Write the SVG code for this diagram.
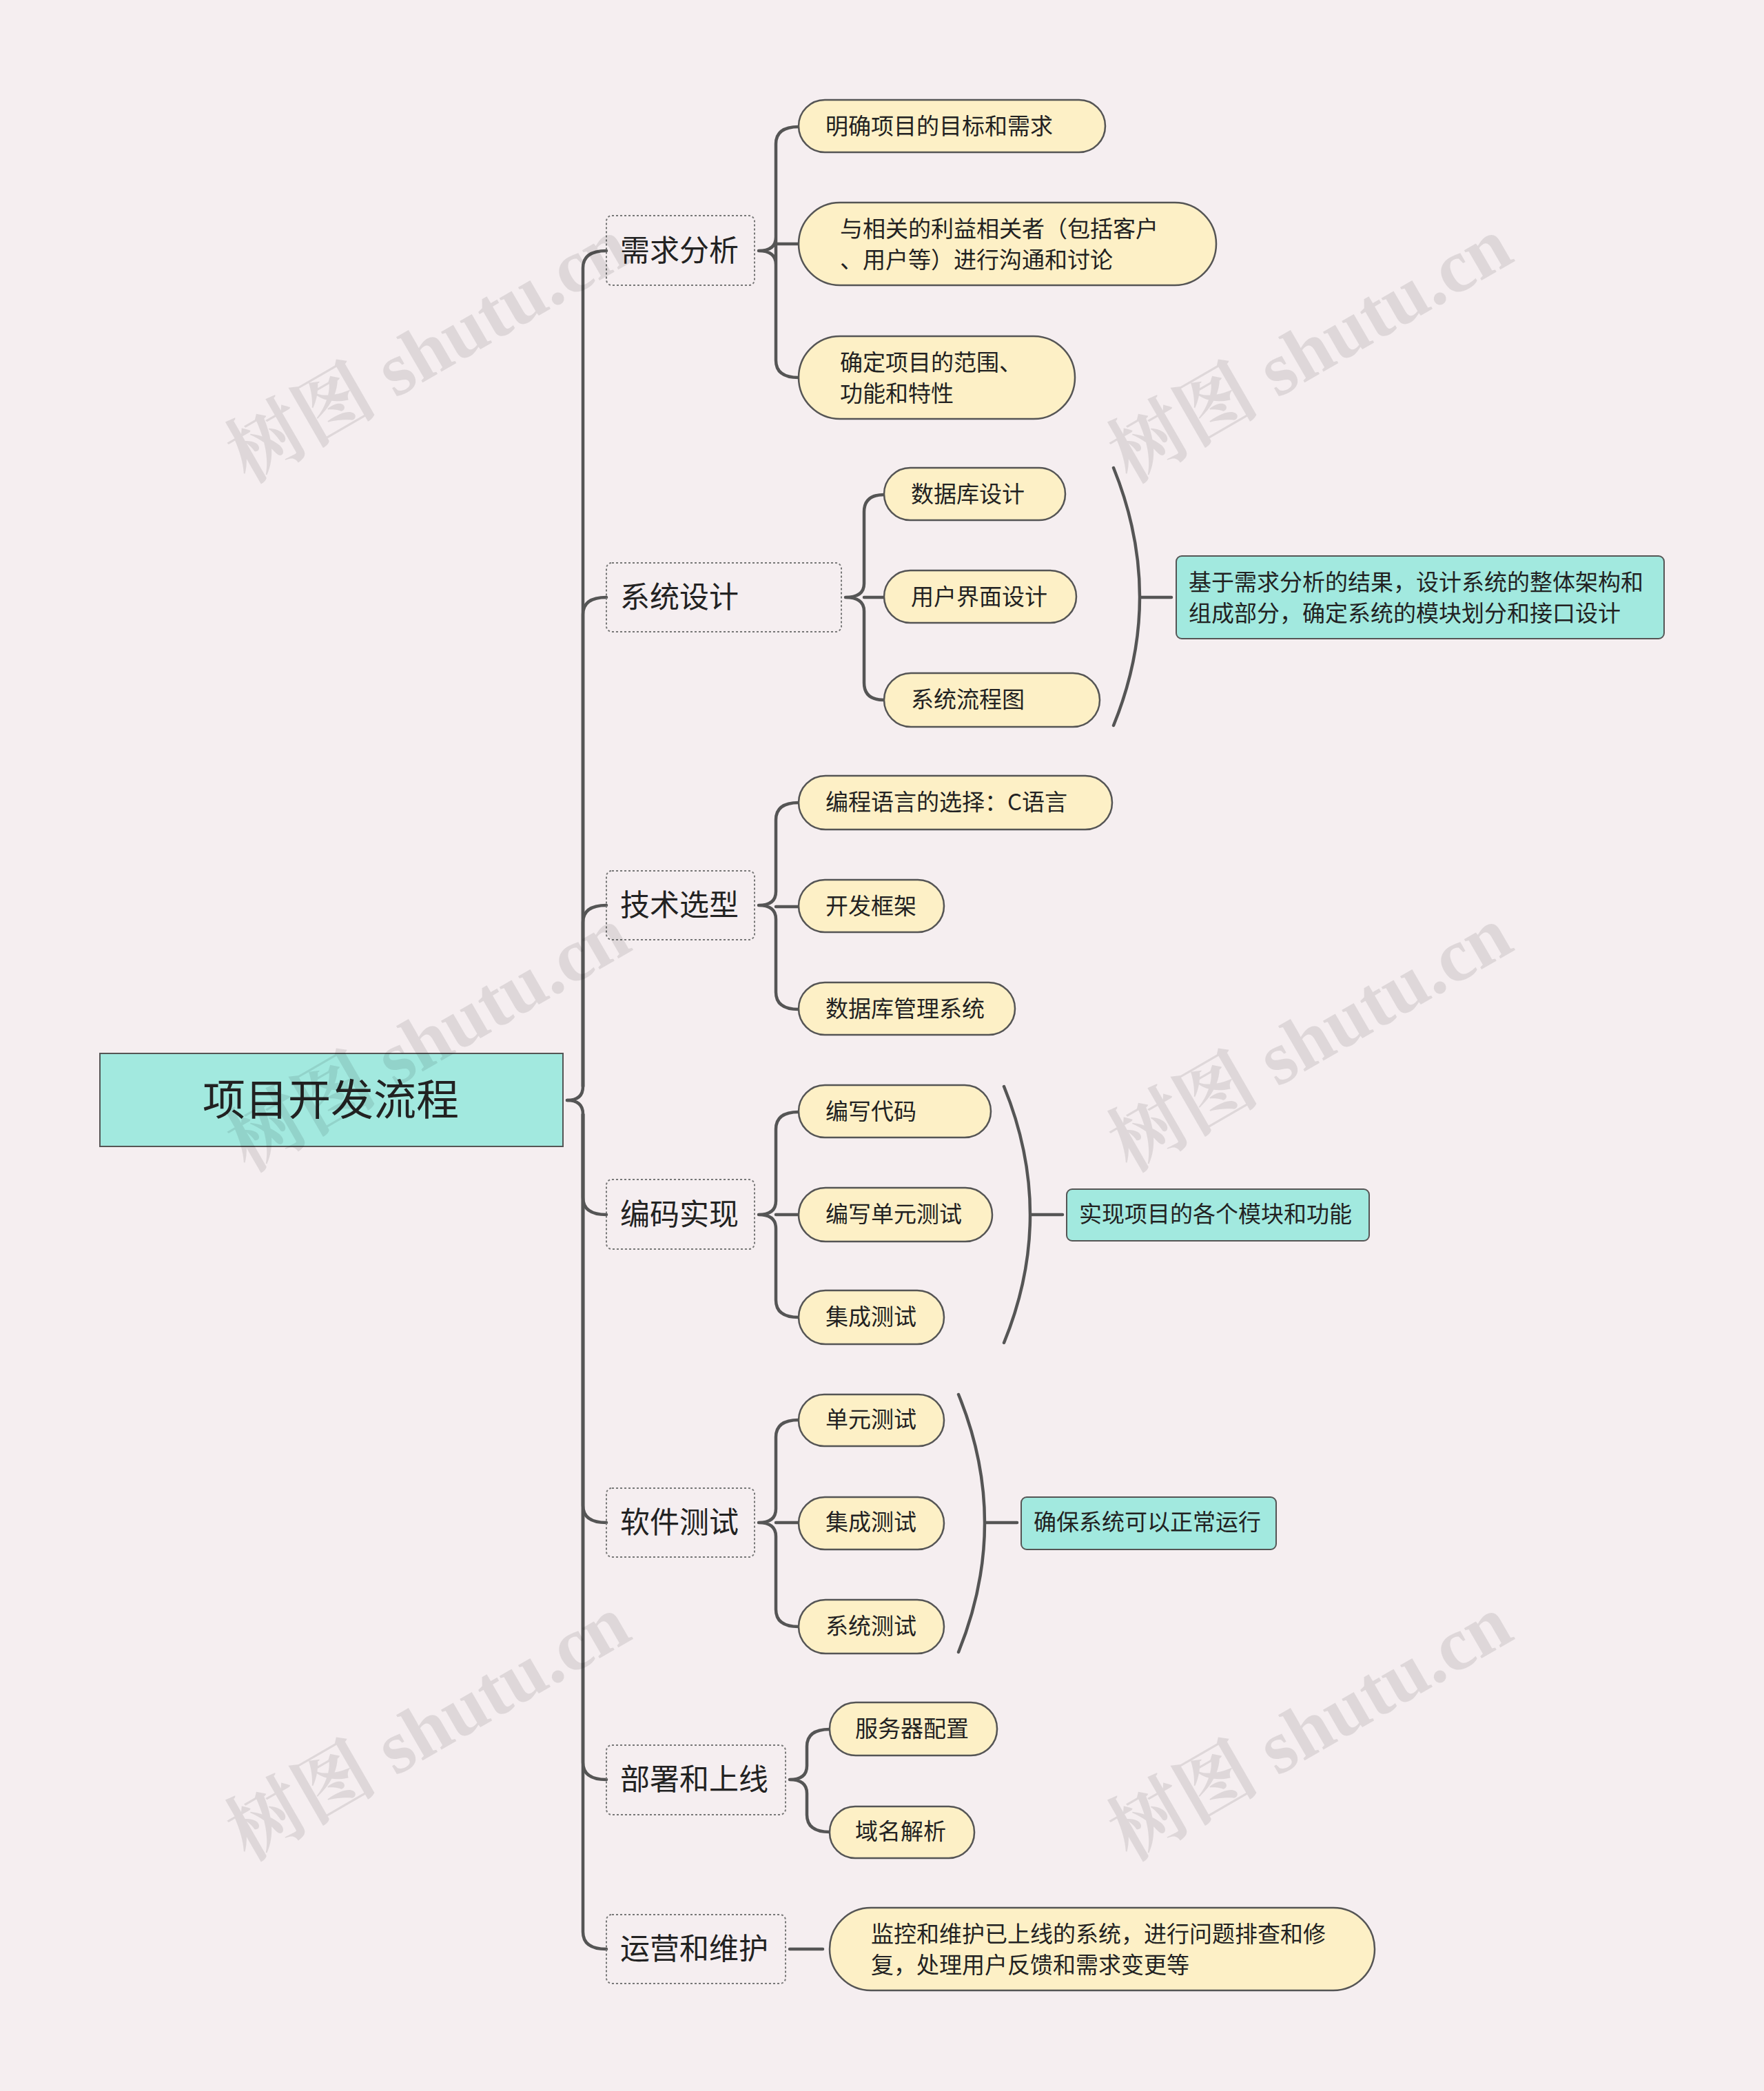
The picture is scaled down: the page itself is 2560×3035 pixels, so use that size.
<svg xmlns="http://www.w3.org/2000/svg" width="2560" height="3035" viewBox="0 0 2560 3035">
<style>
.t{font-family:"Noto Sans CJK SC","Noto Sans",sans-serif;fill:#222}
.l1{font-size:43px}
.l2{font-size:33px}
.pill{fill:#fdf0c6;stroke:#555;stroke-width:2.5}
.sum{fill:#a2e9df;stroke:#555;stroke-width:2}
.box{fill:none;stroke:#777;stroke-width:2;stroke-dasharray:3 3}
.c{fill:none;stroke:#555;stroke-width:4.5;stroke-linecap:round}
.wm{font-family:"Liberation Serif","Noto Serif CJK SC","Noto Sans CJK SC",serif;font-size:110px;font-weight:bold;fill:#000;opacity:0.09}
</style>
<rect width="2560" height="3035" fill="#f5eef0"/>
<g id="connectors">
<path class="c" d="M823,1597 Q846,1597 846,1577 L846,389 Q846,364 880,364"/>
<path class="c" d="M846,1577 L846,892 Q846,867 880,867"/>
<path class="c" d="M846,1577 L846,1339 Q846,1314 880,1314"/>
<path class="c" d="M846,1617 L846,1738 Q846,1763 880,1763"/>
<path class="c" d="M846,1617 L846,2185 Q846,2210 880,2210"/>
<path class="c" d="M846,1617 L846,2558 Q846,2583 880,2583"/>
<path class="c" d="M823,1597 Q846,1597 846,1617 L846,2804 Q846,2829 880,2829"/>
<path class="c" d="M1101,364 Q1126,364 1126,344 L1126,209 Q1126,184 1159,184 M1126,344 L1126,379 L1126,523 Q1126,548 1159,548 M1101,364 Q1126,364 1126,384 L1126,354 Q1126,354 1159,354"/>
<path class="c" d="M1227,867 Q1254,867 1254,847 L1254,743 Q1254,718 1283,718 M1227,867 Q1254,867 1254,887 L1254,991 Q1254,1016 1283,1016 M1254,867 L1283,867"/>
<path class="c" d="M1101,1314 Q1126,1314 1126,1294 L1126,1190 Q1126,1165 1159,1165 M1101,1314 Q1126,1314 1126,1334 L1126,1440 Q1126,1465 1159,1465 M1126,1316 L1159,1316"/>
<path class="c" d="M1101,1763 Q1126,1763 1126,1743 L1126,1639 Q1126,1614 1159,1614 M1101,1763 Q1126,1763 1126,1783 L1126,1887 Q1126,1912 1159,1912 M1126,1763 L1159,1763"/>
<path class="c" d="M1101,2210 Q1126,2210 1126,2190 L1126,2086 Q1126,2061 1159,2061 M1101,2210 Q1126,2210 1126,2230 L1126,2336 Q1126,2361 1159,2361 M1126,2210 L1159,2210"/>
<path class="c" d="M1146,2583 Q1171,2583 1171,2563 L1171,2535 Q1171,2510 1204,2510 M1146,2583 Q1171,2583 1171,2603 L1171,2634 Q1171,2659 1204,2659"/>
<path class="c" d="M1146,2829 L1194,2829"/>
<path class="c" d="M1616,679 Q1692,867 1616,1053 M1654,867 L1700,867"/>
<path class="c" d="M1457,1577 Q1533,1763 1457,1949 M1496,1763 L1542,1763"/>
<path class="c" d="M1391,2024 Q1467,2210 1391,2398 M1430,2210 L1476,2210"/>
</g>
<g id="root"><rect x="145" y="1529" width="672" height="135" fill="#a2e9df" stroke="#555" stroke-width="2"/><text class="t" x="480" y="1619" font-size="62" text-anchor="middle">项目开发流程</text></g>
<g id="n1"><rect class="box" x="880" y="313" width="215" height="101" rx="8"/><text class="t l1" x="900" y="379">需求分析</text></g>
<g id="n2"><rect class="box" x="880" y="817" width="341" height="100" rx="8"/><text class="t l1" x="900" y="882">系统设计</text></g>
<g id="n3"><rect class="box" x="880" y="1264" width="215" height="100" rx="8"/><text class="t l1" x="900" y="1329">技术选型</text></g>
<g id="n4"><rect class="box" x="880" y="1712" width="215" height="101" rx="8"/><text class="t l1" x="900" y="1778">编码实现</text></g>
<g id="n5"><rect class="box" x="880" y="2160" width="215" height="100" rx="8"/><text class="t l1" x="900" y="2225">软件测试</text></g>
<g id="n6"><rect class="box" x="880" y="2533" width="260" height="101" rx="8"/><text class="t l1" x="900" y="2598">部署和上线</text></g>
<g id="n7"><rect class="box" x="880" y="2779" width="260" height="100" rx="8"/><text class="t l1" x="900" y="2844">运营和维护</text></g>
<g id="a1"><rect class="pill" x="1159" y="145" width="445" height="76" rx="38"/><text class="t l2" x="1198" y="195">明确项目的目标和需求</text></g>
<g id="a2"><rect class="pill" x="1159" y="294" width="606" height="120" rx="60"/><text class="t l2" x="1219" y="344">与相关的利益相关者（包括客户</text><text class="t l2" x="1219" y="389">、用户等）进行沟通和讨论</text></g>
<g id="a3"><rect class="pill" x="1159" y="488" width="401" height="120" rx="60"/><text class="t l2" x="1219" y="538">确定项目的范围、</text><text class="t l2" x="1219" y="583">功能和特性</text></g>
<g id="b1"><rect class="pill" x="1283" y="679" width="263" height="76" rx="38"/><text class="t l2" x="1322" y="729">数据库设计</text></g>
<g id="b2"><rect class="pill" x="1283" y="828" width="279" height="76" rx="38"/><text class="t l2" x="1322" y="878">用户界面设计</text></g>
<g id="b3"><rect class="pill" x="1283" y="977" width="313" height="78" rx="39"/><text class="t l2" x="1322" y="1027">系统流程图</text></g>
<g id="bs"><rect class="sum" x="1707" y="807" width="708" height="120" rx="8"/><text class="t l2" x="1725" y="857">基于需求分析的结果，设计系统的整体架构和</text><text class="t l2" x="1725" y="902">组成部分，确定系统的模块划分和接口设计</text></g>
<g id="c1"><rect class="pill" x="1159" y="1126" width="455" height="78" rx="39"/><text class="t l2" x="1198" y="1176">编程语言的选择：C语言</text></g>
<g id="c2"><rect class="pill" x="1159" y="1277" width="211" height="76" rx="38"/><text class="t l2" x="1198" y="1327">开发框架</text></g>
<g id="c3"><rect class="pill" x="1159" y="1426" width="314" height="76" rx="38"/><text class="t l2" x="1198" y="1476">数据库管理系统</text></g>
<g id="d1"><rect class="pill" x="1159" y="1575" width="279" height="76" rx="38"/><text class="t l2" x="1198" y="1625">编写代码</text></g>
<g id="d2"><rect class="pill" x="1159" y="1724" width="281" height="78" rx="39"/><text class="t l2" x="1198" y="1774">编写单元测试</text></g>
<g id="d3"><rect class="pill" x="1159" y="1873" width="211" height="78" rx="39"/><text class="t l2" x="1198" y="1923">集成测试</text></g>
<g id="ds"><rect class="sum" x="1548" y="1726" width="439" height="75" rx="8"/><text class="t l2" x="1566" y="1774">实现项目的各个模块和功能</text></g>
<g id="e1"><rect class="pill" x="1159" y="2024" width="211" height="75" rx="37"/><text class="t l2" x="1198" y="2072">单元测试</text></g>
<g id="e2"><rect class="pill" x="1159" y="2173" width="211" height="76" rx="38"/><text class="t l2" x="1198" y="2221">集成测试</text></g>
<g id="e3"><rect class="pill" x="1159" y="2322" width="211" height="78" rx="39"/><text class="t l2" x="1198" y="2372">系统测试</text></g>
<g id="es"><rect class="sum" x="1482" y="2173" width="370" height="76" rx="8"/><text class="t l2" x="1500" y="2221">确保系统可以正常运行</text></g>
<g id="f1"><rect class="pill" x="1204" y="2471" width="243" height="77" rx="38"/><text class="t l2" x="1241" y="2521">服务器配置</text></g>
<g id="f2"><rect class="pill" x="1204" y="2622" width="210" height="75" rx="37"/><text class="t l2" x="1241" y="2670">域名解析</text></g>
<g id="g1"><rect class="pill" x="1204" y="2769" width="791" height="120" rx="60"/><text class="t l2" x="1264" y="2819">监控和维护已上线的系统，进行问题排查和修</text><text class="t l2" x="1264" y="2864">复，处理用户反馈和需求变更等</text></g>
<g id="watermarks">
<text class="wm" transform="translate(640,540) rotate(-30)" text-anchor="middle">树图 shutu.cn</text>
<text class="wm" transform="translate(1920,540) rotate(-30)" text-anchor="middle">树图 shutu.cn</text>
<text class="wm" transform="translate(640,1540) rotate(-30)" text-anchor="middle">树图 shutu.cn</text>
<text class="wm" transform="translate(1920,1540) rotate(-30)" text-anchor="middle">树图 shutu.cn</text>
<text class="wm" transform="translate(640,2540) rotate(-30)" text-anchor="middle">树图 shutu.cn</text>
<text class="wm" transform="translate(1920,2540) rotate(-30)" text-anchor="middle">树图 shutu.cn</text>
</g>
</svg>
